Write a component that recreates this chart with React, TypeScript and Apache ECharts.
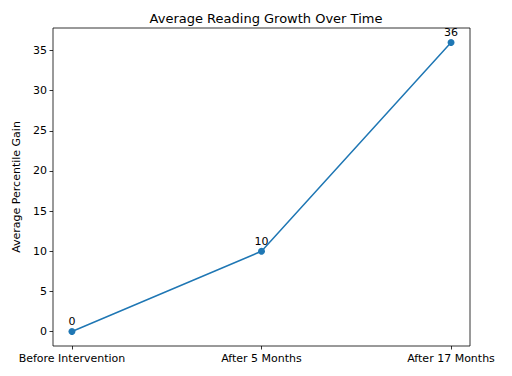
import React, { useEffect, useRef } from "react";
import * as echarts from "echarts";

const categories = ["Before Intervention", "After 5 Months", "After 17 Months"];
const gains = [0, 10, 36];
const yTicks = [0, 5, 10, 15, 20, 25, 30, 35];
const title = "Average Reading Growth Over Time";
const yName = "Average Percentile Gain";

export default function App() {
  const ref = useRef<HTMLDivElement>(null);
  useEffect(() => {
    if (!ref.current) return;
    const chart = echarts.init(ref.current, undefined, { renderer: "svg" });
    const font = "DejaVu Sans";
    const xIdx = categories.map((_, i) => i);
    chart.setOption({
      animation: false,
      backgroundColor: "#fff",
      textStyle: { fontFamily: font },
      title: {
        text: title,
        left: 261,
        top: 7,
        textAlign: "center",
        textStyle: { fontFamily: font, fontSize: 13, fontWeight: "normal", color: "#000" },
      },
      grid: {
        left: 53,
        right: 42,
        top: 28,
        bottom: 30,
        show: true,
        borderColor: "#000",
        borderWidth: 0.8,
        backgroundColor: "transparent",
      },
      xAxis: {
        type: "value",
        min: -0.1,
        max: 2.1,
        axisLine: { show: false, onZero: false },
        splitLine: { show: false },
        axisTick: {
          show: true,
          length: 3.5,
          customValues: xIdx,
          lineStyle: { color: "#000", width: 0.8 },
        },
        axisLabel: {
          customValues: xIdx,
          margin: 7,
          fontSize: 11,
          color: "#000",
          fontFamily: font,
          formatter: (v: number) => categories[Math.round(v)] ?? "",
        },
      },
      yAxis: {
        type: "value",
        min: -1.8,
        max: 37.8,
        name: yName,
        nameLocation: "middle",
        nameGap: 25,
        nameTextStyle: { fontSize: 11, color: "#000", fontFamily: font },
        axisLine: { show: false, onZero: false },
        splitLine: { show: false },
        axisTick: {
          show: true,
          length: 3.5,
          customValues: yTicks,
          lineStyle: { color: "#000", width: 0.8 },
        },
        axisLabel: {
          customValues: yTicks,
          margin: 6,
          fontSize: 11,
          color: "#000",
          fontFamily: font,
        },
      },
      series: [
        {
          type: "line",
          data: gains.map((g, i) => [i, g]),
          symbol: "circle",
          symbolSize: 7,
          itemStyle: { color: "#1f77b4" },
          lineStyle: { color: "#1f77b4", width: 1.5 },
          label: {
            show: true,
            position: "top",
            distance: 1,
            fontSize: 11,
            color: "#000",
            fontFamily: font,
            formatter: (p: any) => String(p.value[1]),
          },
        },
      ],
    });
    return () => chart.dispose();
  }, []);
  return (
    <div
      ref={ref}
      style={{ position: "absolute", left: 0, top: 0, width: 512, height: 376 }}
    />
  );
}
